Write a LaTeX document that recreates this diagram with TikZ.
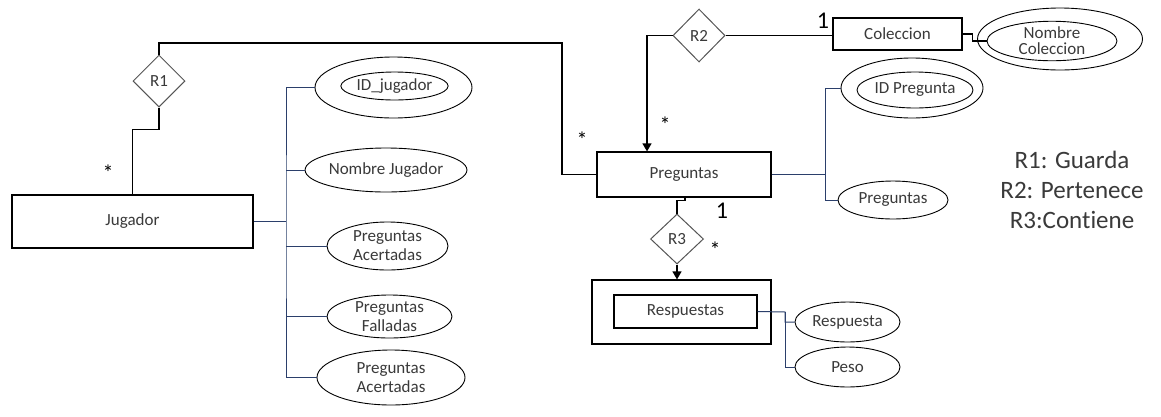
\documentclass[tikz,border=0pt]{standalone}
\usepackage{fontspec}
\setmainfont{Carlito}[Ligatures=CommonOff]
\usetikzlibrary{shapes.geometric,arrows.meta}
\definecolor{txt}{HTML}{3A3A3A}
\definecolor{attrc}{HTML}{2B3F6B}
\definecolor{dia}{HTML}{555555}
\tikzset{
  ent/.style={draw=black,line width=1.2pt,rectangle,inner sep=0pt,text=txt,font=\fontsize{17}{19}\selectfont},
  att/.style={draw=black,line width=0.9pt,ellipse,inner sep=0pt,text=txt,align=center,font=\fontsize{17}{19}\selectfont},
  rel/.style={draw=dia,line width=1pt,diamond,aspect=1,inner sep=0pt,text=txt,font=\fontsize{17}{19}\selectfont},
  rline/.style={draw=black,line width=1.2pt},
  aline/.style={draw=attrc,line width=1pt},
  card/.style={text=black,inner sep=0pt,font=\fontsize{22}{24}\selectfont},
  one/.style={text=black,inner sep=0pt,font=\fontsize{24}{26}\selectfont},
  arr/.style={-{Triangle[width=9pt,length=8pt]}}
}
\begin{document}
\begin{tikzpicture}[x=1pt,y=-1pt]
\useasboundingbox[fill=white] (0,0) rectangle (1161,416);
% entities
\node[ent,minimum width=241pt,minimum height=53pt] (Jug) at (132.5,221.5) {Jugador};
\node[ent,minimum width=174pt,minimum height=45pt] (Preg) at (684,174.5) {Preguntas};
\node[ent,minimum width=129pt,minimum height=32pt] (Col) at (897.5,34) {Coleccion};
\node[ent,minimum width=179pt,minimum height=64pt] (ResO) at (681.5,312) {};
\node[ent,minimum width=143pt,minimum height=33pt] (ResI) at (685.5,311.5) {Respuestas};
% relations
\node[rel,minimum width=52pt,minimum height=52pt] (R1) at (159,81) {R1};
\node[rel,minimum width=52pt,minimum height=53pt] (R2) at (699,35.5) {R2};
\node[rel,minimum width=53pt,minimum height=50pt] (R3) at (677,239) {R3};
% Jugador attributes
\node[att,minimum width=157pt,minimum height=61pt] (IDJo) at (393.5,87.5) {};
\node[att,minimum width=105pt,minimum height=28pt] (IDJi) at (394.5,86) {ID\_jugador};
\node[att,minimum width=138pt,minimum height=44pt] (NJ) at (386,170) {Nombre Jugador};
\node[att,minimum width=121pt,minimum height=48pt] (PA1) at (387.5,246) {Preguntas\\Acertadas};
\node[att,minimum width=125pt,minimum height=43pt] (PF) at (389.5,316.5) {Preguntas\\Falladas};
\node[att,minimum width=148pt,minimum height=55pt] (PA2) at (391,377.5) {Preguntas\\Acertadas};
% Preguntas attributes
\node[att,minimum width=142pt,minimum height=60pt] (IDPo) at (912,88) {};
\node[att,minimum width=116pt,minimum height=36pt] (IDPi) at (915,90) {ID Pregunta};
\node[att,minimum width=110pt,minimum height=38pt] (PrA) at (893,200) {Preguntas};
% Coleccion attribute
\node[att,minimum width=165pt,minimum height=62pt] (NCo) at (1060,39) {};
\node[att,minimum width=130pt,minimum height=38pt] (NCi) at (1052,41) {Nombre\\[-3pt]Coleccion};
% Respuestas attributes
\node[att,minimum width=105pt,minimum height=40pt] (Resp) at (847.5,322) {Respuesta};
\node[att,minimum width=105pt,minimum height=40pt] (Peso) at (847.5,367) {Peso};
% coordinates
\coordinate (c1) at (562,43);
\coordinate (jb) at (286,221.5);
\coordinate (pb) at (825,174.5);
\coordinate (rb) at (785,312);
% relation lines
\draw[rline] (R1.north) |- (c1) |- (Preg.west);
\draw[rline] (R1.south) -- ++(0,22) -| (Jug.north);
\draw[rline,arr] (R2.west) -| ([xshift=-37pt]Preg.north);
\draw[rline] (R2.east) -- (R2.east -| Col.west);
\draw[rline] ([xshift=1pt]Preg.south) -- ++(0,3) -| (R3.north);
\draw[rline,arr] (R3.south) -- (R3.south |- ResO.north);
\draw[rline] (Col.east) -- ++(10,0) |- (NCi.west);
% attribute lines
\draw[aline] (Jug.east) -- (jb);
\draw[aline] (IDJo.west) -| (jb) |- (PA2.west);
\draw[aline] (NJ.west) -- (NJ.west -| jb);
\draw[aline] (PA1.west) -- (PA1.west -| jb);
\draw[aline] (PF.west) -- (PF.west -| jb);
\draw[aline] (Preg.east) -- (pb);
\draw[aline] (IDPo.west) -| (pb) |- (PrA.west);
\draw[aline] (ResI.east) -- (rb) |- (Resp.west);
\draw[aline] (rb) |- (Peso.west);
% cardinalities
\node[card] (s1) at (108,173) {*};
\node[card] (s2) at (582,140) {*};
\node[card] (s3) at (665,125) {*};
\node[card] (s4) at (715,250) {*};
\node[one] (o1) at (823,21) {1};
\node[one] (o2) at (722,211) {1};
% legend
\node[text=txt,align=center,font=\fontsize{25}{30}\selectfont] (leg) at (1072,190) {R1: Guarda\\R2: Pertenece\\R3:Contiene};
\end{tikzpicture}
\end{document}
